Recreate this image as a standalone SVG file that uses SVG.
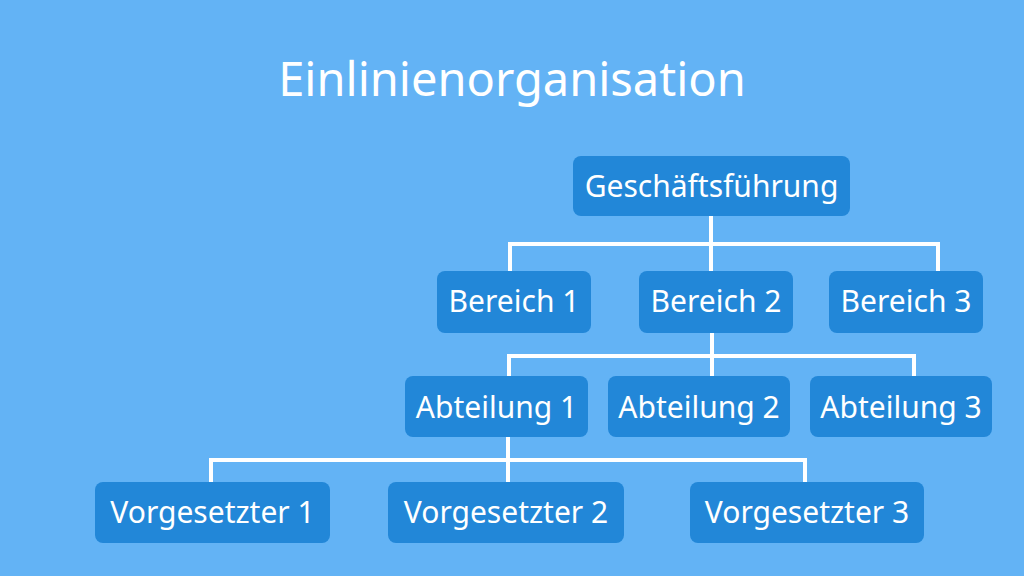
<svg xmlns="http://www.w3.org/2000/svg" width="1024" height="576" viewBox="0 0 1024 576">
  <style>
    .box { fill: #2287d8; }
    .lbl { font-family: "Noto Sans", "Open Sans", sans-serif; font-size: 30px; fill: #ffffff; text-anchor: middle; }
    .title { font-family: "Noto Sans", "Open Sans", sans-serif; font-size: 47px; fill: #ffffff; text-anchor: middle; }
    .conn { fill: none; stroke: #ffffff; stroke-width: 4; }
  </style>
  <rect x="0" y="0" width="1024" height="576" fill="#63b3f5"/>
  <text class="title" x="512" y="96">Einlinienorganisation</text>

  <g id="connectors">
    <path class="conn" d="M711 216 V244 M510 271 V244 H938 V271 M711 244 V271"/>
    <path class="conn" d="M712 333 V356 M509 376 V356 H914 V376 M712 356 V376"/>
    <path class="conn" d="M508 437 V460 M211 482 V460 H805 V482 M508 460 V482"/>
  </g>

  <g id="geschaeftsfuehrung">
    <rect class="box" x="573" y="156" width="277" height="60" rx="8"/>
    <text class="lbl" x="711.5" y="197">Geschäftsführung</text>
  </g>

  <g id="bereich1">
    <rect class="box" x="437" y="271" width="154" height="62" rx="8"/>
    <text class="lbl" x="514" y="312">Bereich 1</text>
  </g>
  <g id="bereich2">
    <rect class="box" x="639" y="271" width="154" height="62" rx="8"/>
    <text class="lbl" x="716" y="312">Bereich 2</text>
  </g>
  <g id="bereich3">
    <rect class="box" x="829" y="271" width="154" height="62" rx="8"/>
    <text class="lbl" x="906" y="312">Bereich 3</text>
  </g>

  <g id="abteilung1">
    <rect class="box" x="405" y="376" width="183" height="61" rx="8"/>
    <text class="lbl" x="496.5" y="418">Abteilung 1</text>
  </g>
  <g id="abteilung2">
    <rect class="box" x="608" y="376" width="182" height="61" rx="8"/>
    <text class="lbl" x="699" y="418">Abteilung 2</text>
  </g>
  <g id="abteilung3">
    <rect class="box" x="810" y="376" width="182" height="61" rx="8"/>
    <text class="lbl" x="901" y="418">Abteilung 3</text>
  </g>

  <g id="vorgesetzter1">
    <rect class="box" x="95" y="482" width="235" height="61" rx="8"/>
    <text class="lbl" x="212.5" y="523">Vorgesetzter 1</text>
  </g>
  <g id="vorgesetzter2">
    <rect class="box" x="388" y="482" width="236" height="61" rx="8"/>
    <text class="lbl" x="506" y="523">Vorgesetzter 2</text>
  </g>
  <g id="vorgesetzter3">
    <rect class="box" x="690" y="482" width="234" height="61" rx="8"/>
    <text class="lbl" x="807" y="523">Vorgesetzter 3</text>
  </g>
</svg>
